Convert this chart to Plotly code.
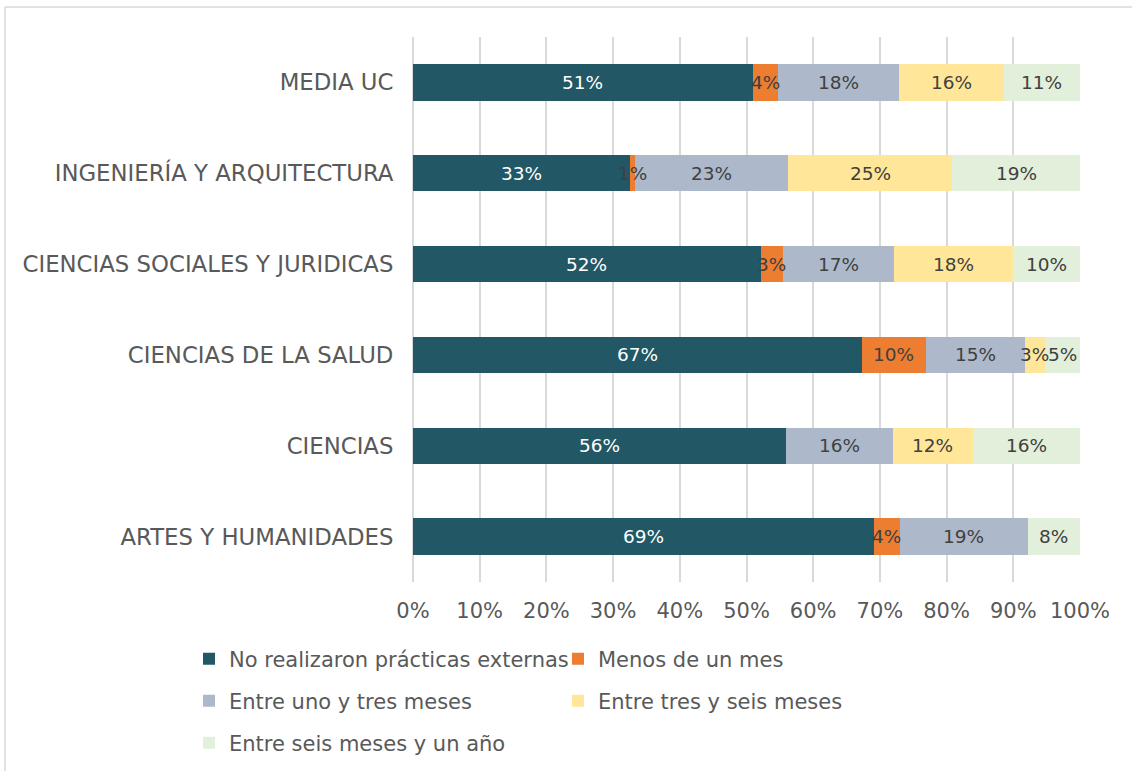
import plotly.graph_objects as go

categories = ["MEDIA UC", "INGENIERÍA Y ARQUITECTURA", "CIENCIAS SOCIALES Y JURIDICAS",
              "CIENCIAS DE LA SALUD", "CIENCIAS", "ARTES Y HUMANIDADES"]

series_names = ["No realizaron prácticas externas", "Menos de un mes",
                "Entre uno y tres meses", "Entre tres y seis meses",
                "Entre seis meses y un año"]

no_practicas = [50.9, 32.6, 52.1, 67.3, 55.9, 69.1]
menos_mes = [3.8, 0.65, 3.4, 9.6, 0.0, 3.9]
uno_tres = [18.1, 23.0, 16.6, 14.8, 16.0, 19.2]
tres_seis = [15.8, 24.6, 17.9, 3.0, 12.0, 0.0]
seis_anio = [11.4, 19.15, 10.0, 5.3, 16.1, 7.8]

series_values = [no_practicas, menos_mes, uno_tres, tres_seis, seis_anio]
colors = ["#225866", "#ED7D31", "#ADB9CA", "#FFE699", "#E2EFDA"]
text_colors = ["#FFFFFF", "#404040", "#404040", "#404040", "#404040"]
legend_ids = ["legend", "legend", "legend2", "legend2", "legend3"]

FONT = "DejaVu Sans"

fig = go.Figure()
for name, vals, col, lg in zip(series_names, series_values, colors, legend_ids):
    fig.add_trace(go.Bar(
        y=categories, x=vals, name=name, orientation="h",
        marker=dict(color=col, line=dict(width=0)),
        legend=lg, hoverinfo="skip",
    ))

# data labels on top of all bars, at the centre of each stacked segment
annotations = []
base = [0.0] * len(categories)
for vals, tcol in zip(series_values, text_colors):
    for cat, b, v in zip(categories, base, vals):
        if v > 0:
            annotations.append(dict(
                x=b + v / 2, y=cat, xref="x", yref="y", text=f"{int(v + 0.5)}%",
                showarrow=False, yshift=0, xanchor="center", yanchor="middle",
                font=dict(color=tcol, size=18.5, family=FONT),
            ))
    base = [b + v for b, v in zip(base, vals)]

W, H = 1132, 771
L, R, T, B = 413, 52, 37, 189
pw, ph = W - L - R, H - T - B

def px_x(X):
    return (X - L) / pw

def px_y(Y):
    return (H - B - Y) / ph

leg_common = dict(orientation="h", xref="paper", yref="paper", xanchor="left", yanchor="middle",
                  font=dict(family=FONT, size=21, color="#595959"),
                  entrywidth=324, entrywidthmode="pixels", bgcolor="rgba(0,0,0,0)",
                  traceorder="normal")

fig.update_layout(
    width=W, height=H,
    margin=dict(l=L, r=R, t=T, b=B, autoexpand=False),
    barmode="stack", bargap=0.6,
    plot_bgcolor="white", paper_bgcolor="white",
    font=dict(family=FONT, color="#595959", size=20),
    showlegend=True,
    legend=dict(x=px_x(189), y=px_y(659), **leg_common),
    legend2=dict(x=px_x(189), y=px_y(701), **leg_common),
    legend3=dict(x=px_x(189), y=px_y(743), **leg_common),
    annotations=annotations,
    xaxis=dict(range=[0, 100], dtick=10, ticksuffix="%", showgrid=True,
               gridcolor="#D9D9D9", gridwidth=2, zeroline=True, zerolinecolor="#D9D9D9",
               zerolinewidth=2, showline=False, ticks="outside", ticklen=10,
               tickcolor="rgba(0,0,0,0)", tickfont=dict(size=21, color="#595959", family=FONT),
               fixedrange=True),
    yaxis=dict(autorange="reversed", showgrid=False, showline=False, ticks="outside",
               ticklen=14, tickcolor="rgba(0,0,0,0)",
               tickfont=dict(size=22.8, color="#595959", family=FONT), fixedrange=True),
    shapes=[
        dict(type="line", xref="paper", yref="paper", x0=px_x(5), x1=px_x(1140),
             y0=px_y(7), y1=px_y(7), line=dict(color="#D9D9D9", width=1.5)),
        dict(type="line", xref="paper", yref="paper", x0=px_x(5), x1=px_x(5),
             y0=px_y(7), y1=px_y(780), line=dict(color="#D9D9D9", width=1.5)),
    ],
)

fig.write_html("out.html", config={"displayModeBar": False},
               post_script="document.body.style.margin='0';")
